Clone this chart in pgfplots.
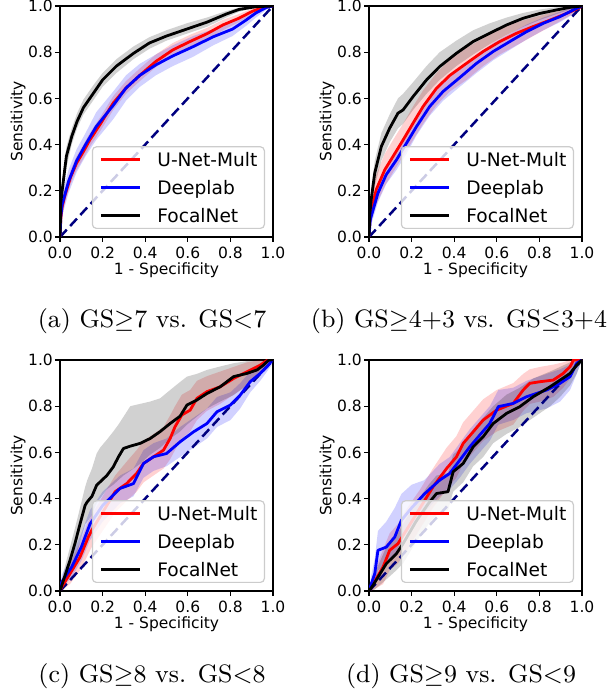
\documentclass[border=0pt]{standalone}
\usepackage{fontspec}
\usepackage{pgfplots}
\usepackage{pgfplotstable}
\pgfplotsset{compat=1.18}
\usepgfplotslibrary{fillbetween}
\newfontfamily\dejavu{DejaVu Sans}
\newcommand\tickfont{\dejavu\fontsize{15.5bp}{18bp}\selectfont}
\newcommand\legfont{\dejavu\fontsize{18.6bp}{22bp}\selectfont}
\definecolor{navy}{RGB}{0,0,128}

% columns: x = 1-specificity, y = sensitivity, lo/hi = band
\pgfplotstableread{
x y lo hi
0 0 0 0
0.004 0.08 0.05 0.11
0.01 0.13 0.10 0.16
0.023 0.18 0.15 0.21
0.05 0.26 0.23 0.29
0.078 0.32 0.29 0.35
0.11 0.37 0.34 0.40
0.14 0.42 0.39 0.45
0.19 0.49 0.46 0.52
0.25 0.58 0.55 0.61
0.31 0.645 0.62 0.675
0.375 0.70 0.675 0.73
0.45 0.76 0.735 0.79
0.53 0.81 0.785 0.84
0.61 0.846 0.82 0.875
0.69 0.88 0.855 0.905
0.765 0.918 0.895 0.94
0.84 0.947 0.93 0.965
0.905 0.978 0.965 0.99
0.955 0.994 0.985 1
1 1 1 1
}\aU
\pgfplotstableread{
x y lo hi
0 0 0 0
0.004 0.09 0.05 0.13
0.01 0.14 0.09 0.19
0.04 0.24 0.19 0.29
0.078 0.33 0.28 0.38
0.12 0.40 0.35 0.45
0.17 0.478 0.42 0.54
0.25 0.57 0.51 0.63
0.31 0.645 0.59 0.70
0.375 0.70 0.65 0.75
0.45 0.745 0.70 0.79
0.53 0.784 0.74 0.83
0.625 0.824 0.78 0.87
0.72 0.867 0.83 0.90
0.81 0.90 0.87 0.93
0.875 0.94 0.915 0.96
0.92 0.97 0.95 0.985
0.97 0.994 0.985 1
1 1 1 1
}\aD
\pgfplotstableread{
x y lo hi
0 0 0 0
0.004 0.15 0.10 0.19
0.01 0.2 0.15 0.24
0.03 0.35 0.30 0.39
0.055 0.435 0.40 0.47
0.08 0.50 0.47 0.535
0.11 0.56 0.53 0.595
0.155 0.62 0.59 0.655
0.20 0.68 0.65 0.71
0.265 0.74 0.71 0.77
0.345 0.795 0.77 0.825
0.42 0.84 0.815 0.865
0.50 0.87 0.85 0.895
0.595 0.90 0.88 0.925
0.69 0.93 0.91 0.95
0.78 0.965 0.95 0.978
0.84 0.985 0.975 0.993
0.92 0.997 0.993 1
1 1 1 1
}\aF

\pgfplotstableread{
x y lo hi
0 0 0 0
0.006 0.104 0.06 0.15
0.034 0.205 0.14 0.27
0.074 0.291 0.22 0.36
0.113 0.349 0.28 0.42
0.16 0.42 0.35 0.49
0.207 0.493 0.42 0.565
0.254 0.565 0.49 0.635
0.317 0.644 0.57 0.71
0.38 0.70 0.63 0.77
0.458 0.752 0.68 0.82
0.536 0.803 0.74 0.86
0.614 0.846 0.79 0.90
0.693 0.882 0.83 0.93
0.771 0.911 0.87 0.95
0.85 0.939 0.91 0.97
0.928 0.968 0.95 0.985
0.983 0.99 0.98 1
1 1 1 1
}\bU
\pgfplotstableread{
x y lo hi
0 0 0 0
0.006 0.075 0.04 0.11
0.042 0.19 0.15 0.23
0.081 0.27 0.23 0.31
0.129 0.334 0.29 0.38
0.176 0.406 0.36 0.45
0.223 0.478 0.44 0.52
0.285 0.565 0.525 0.605
0.348 0.63 0.59 0.67
0.426 0.69 0.65 0.73
0.505 0.752 0.71 0.79
0.583 0.803 0.765 0.84
0.661 0.846 0.81 0.88
0.74 0.889 0.855 0.92
0.818 0.925 0.895 0.95
0.897 0.954 0.93 0.975
0.959 0.983 0.965 0.995
1 1 1 1
}\bD
\pgfplotstableread{
x y lo hi
0 0 0 0
0.004 0.10 0.06 0.14
0.01 0.16 0.11 0.21
0.027 0.277 0.22 0.33
0.058 0.392 0.33 0.45
0.097 0.471 0.41 0.53
0.136 0.536 0.47 0.60
0.16 0.55 0.49 0.62
0.207 0.608 0.55 0.67
0.27 0.68 0.62 0.74
0.332 0.738 0.68 0.80
0.41 0.795 0.74 0.85
0.489 0.846 0.79 0.895
0.567 0.882 0.835 0.925
0.646 0.918 0.875 0.95
0.724 0.947 0.91 0.97
0.803 0.968 0.94 0.985
0.881 0.983 0.965 0.995
0.944 0.994 0.985 1
1 1 1 1
}\bF

\pgfplotstableread{
x y lo hi
0 0 0 0
0.008 0.017 0 0.04
0.047 0.075 0.03 0.12
0.094 0.147 0.09 0.21
0.133 0.234 0.16 0.30
0.149 0.263 0.19 0.33
0.20 0.34 0.26 0.41
0.259 0.43 0.34 0.50
0.313 0.465 0.39 0.56
0.36 0.509 0.43 0.61
0.392 0.552 0.47 0.65
0.439 0.581 0.50 0.68
0.486 0.61 0.53 0.71
0.517 0.66 0.57 0.76
0.54 0.711 0.61 0.80
0.572 0.762 0.66 0.85
0.611 0.783 0.69 0.87
0.643 0.834 0.74 0.91
0.69 0.863 0.78 0.93
0.752 0.884 0.81 0.95
0.815 0.92 0.85 0.97
0.878 0.949 0.89 0.99
0.94 0.978 0.94 1
0.97 0.997 0.97 1
1 1 1 1
}\cU
\pgfplotstableread{
x y lo hi
0 0 0 0
0.008 0.039 0.01 0.07
0.055 0.104 0.06 0.15
0.10 0.19 0.13 0.25
0.141 0.29 0.22 0.35
0.20 0.37 0.30 0.43
0.282 0.444 0.38 0.50
0.345 0.465 0.41 0.53
0.392 0.552 0.49 0.61
0.439 0.581 0.52 0.64
0.50 0.595 0.54 0.66
0.564 0.646 0.58 0.71
0.627 0.689 0.62 0.75
0.69 0.725 0.66 0.79
0.737 0.776 0.71 0.84
0.80 0.805 0.74 0.86
0.846 0.848 0.79 0.90
0.893 0.906 0.86 0.95
0.94 0.942 0.91 0.97
0.972 0.971 0.95 0.99
0.995 0.997 0.98 1
1 1 1 1
}\cD
\pgfplotstableread{
x y lo hi
0 0 0 0
0.016 0.046 0.02 0.08
0.047 0.133 0.08 0.19
0.07 0.205 0.13 0.27
0.094 0.29 0.21 0.36
0.118 0.371 0.29 0.45
0.128 0.386 0.30 0.48
0.15 0.41 0.33 0.53
0.172 0.458 0.38 0.595
0.188 0.472 0.40 0.62
0.22 0.50 0.44 0.655
0.25 0.537 0.46 0.69
0.274 0.58 0.48 0.72
0.298 0.617 0.50 0.754
0.33 0.627 0.52 0.80
0.376 0.639 0.55 0.81
0.423 0.66 0.59 0.82
0.47 0.69 0.62 0.834
0.517 0.725 0.66 0.87
0.564 0.757 0.69 0.905
0.596 0.805 0.72 0.928
0.643 0.827 0.755 0.94
0.69 0.855 0.79 0.957
0.752 0.884 0.82 0.972
0.815 0.928 0.848 0.986
0.878 0.942 0.89 0.995
0.925 0.957 0.93 1
0.956 0.978 0.955 1
0.98 1 0.975 1
1 1 1 1
}\cF

\pgfplotstableread{
x y lo hi
0 0 0 0
0.011 0.017 0 0.05
0.066 0.104 0.03 0.18
0.097 0.176 0.09 0.25
0.136 0.205 0.12 0.29
0.18 0.27 0.18 0.36
0.24 0.36 0.27 0.44
0.30 0.45 0.36 0.53
0.364 0.53 0.44 0.62
0.41 0.58 0.49 0.67
0.442 0.639 0.55 0.73
0.489 0.689 0.60 0.78
0.536 0.74 0.65 0.83
0.599 0.783 0.69 0.87
0.677 0.812 0.72 0.90
0.724 0.87 0.78 0.94
0.755 0.899 0.81 0.96
0.803 0.906 0.82 0.97
0.865 0.913 0.84 0.98
0.912 0.942 0.88 0.99
0.944 0.971 0.92 1
0.96 1 0.96 1
1 1 1 1
}\dU
\pgfplotstableread{
x y lo hi
0 0 0 0
0.011 0.032 0 0.07
0.027 0.075 0.02 0.14
0.042 0.176 0.09 0.26
0.081 0.19 0.11 0.30
0.121 0.234 0.15 0.36
0.152 0.306 0.22 0.42
0.20 0.36 0.28 0.46
0.26 0.42 0.34 0.48
0.332 0.48 0.41 0.55
0.379 0.509 0.44 0.58
0.426 0.566 0.49 0.64
0.473 0.624 0.55 0.70
0.52 0.675 0.60 0.75
0.567 0.725 0.65 0.80
0.607 0.798 0.72 0.87
0.677 0.812 0.74 0.88
0.74 0.841 0.77 0.91
0.834 0.87 0.79 0.94
0.897 0.899 0.82 0.96
0.944 0.928 0.87 0.98
0.975 0.986 0.94 1
1 1 1 1
}\dD
\pgfplotstableread{
x y lo hi
0 0 0 0
0.019 0.025 0 0.06
0.081 0.118 0.05 0.19
0.129 0.162 0.09 0.24
0.16 0.205 0.12 0.29
0.22 0.30 0.21 0.38
0.28 0.38 0.29 0.46
0.317 0.422 0.33 0.50
0.371 0.43 0.35 0.51
0.395 0.516 0.43 0.59
0.442 0.552 0.47 0.63
0.489 0.624 0.54 0.70
0.536 0.668 0.58 0.75
0.583 0.725 0.64 0.80
0.646 0.769 0.68 0.85
0.708 0.798 0.71 0.88
0.771 0.841 0.75 0.92
0.85 0.884 0.80 0.95
0.897 0.913 0.84 0.97
0.944 0.942 0.89 0.99
0.975 0.978 0.94 1
1 1 1 1
}\dF

\pgfplotsset{
  roc/.style={
    scale only axis, width=213bp, height=231bp, anchor=south west,
    xmin=0, xmax=1, ymin=0, ymax=1,
    xtick={0,0.2,0.4,0.6,0.8,1}, ytick={0,0.2,0.4,0.6,0.8,1},
    tick pos=left, tick align=outside, major tick length=5bp,
    tick style={black, line width=1.3bp},
    axis line style={line width=2bp},
    /pgf/number format/assume math mode=true,
    /pgf/number format/fixed, /pgf/number format/fixed zerofill,
    /pgf/number format/precision=1,
    ticklabel style={font=\tickfont},
    xticklabel style={inner ysep=4.5bp},
    yticklabel style={inner xsep=2bp},
    xlabel={1 - Specificity}, ylabel={Sensitivity},
    every axis x label/.style={at={(axis description cs:0.5,-0.143)}, anchor=center, font=\tickfont},
    every axis y label/.style={at={(axis description cs:-0.197,0.5)}, anchor=center, rotate=90, font=\tickfont},
    legend entries={U-Net-Mult, Deeplab, FocalNet},
    legend cell align=left,
    legend image code/.code={\draw[##1, line width=3bp] (0bp,0bp) -- (39bp,0bp);},
    legend style={at={(1,0)}, anchor=south east, xshift=-8bp, yshift=8bp,
      draw=black!20, line width=1.2bp, fill=white, fill opacity=0.8,
      draw opacity=1, text opacity=1, rounded corners=4bp,
      inner xsep=7bp, inner ysep=6bp, font=\legfont,
      row sep=14.4bp, column sep=16bp,
      nodes={inner sep=0bp, text height=13.6bp, text depth=0bp}},
  },
  curve/.style={line width=2.8bp, line join=round},
}

\newcommand{\band}[3]{%
  \addplot[draw=none, forget plot, name path=#3lo] table[x=x, y=lo] {#1};
  \addplot[draw=none, forget plot, name path=#3hi] table[x=x, y=hi] {#1};
  \addplot[fill=#2, fill opacity=0.18, draw=none, forget plot] fill between[of=#3lo and #3hi];
}
\newcommand{\rocpanel}[4]{%
  \begin{axis}[roc, at={#1}]
    \band{#2}{red}{u}
    \band{#3}{blue}{d}
    \band{#4}{black}{f}
    \addplot[navy, line width=2.5bp, dash pattern=on 10bp off 5bp, forget plot] coordinates {(0,0) (1,1)};
    \addplot[red, curve] table[x=x, y=y] {#2};
    \addplot[blue, curve] table[x=x, y=y] {#3};
    \addplot[black, curve] table[x=x, y=y] {#4};
  \end{axis}
}

\begin{document}
\begin{tikzpicture}
\rocpanel{(60bp,460bp)}{\aU}{\aD}{\aF}
\rocpanel{(369bp,460bp)}{\bU}{\bD}{\bF}
\rocpanel{(60bp,106bp)}{\cU}{\cD}{\cF}
\rocpanel{(369bp,106bp)}{\dU}{\dD}{\dF}
\begin{scope}[every node/.style={anchor=base, scale=2.8, font=\fontsize{9bp}{11bp}\selectfont}]
  \node at (152bp,369bp) {(a) GS$\geq$7 vs. GS$<$7};
  \node at (459bp,369bp) {(b) GS$\geq$4+3 vs. GS$\leq$3+4};
  \node at (152bp,15bp) {(c) GS$\geq$8 vs. GS$<$8};
  \node at (461bp,15bp) {(d) GS$\geq$9 vs. GS$<$9};
\end{scope}
\pgfresetboundingbox
\path (0bp,0bp) rectangle (612bp,697bp);
\end{tikzpicture}
\end{document}
